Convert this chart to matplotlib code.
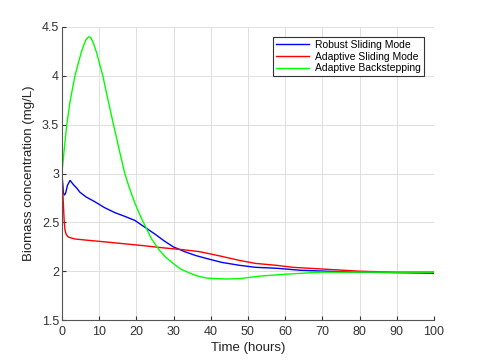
import matplotlib.pyplot as plt

# values (time in hours, biomass in mg/L)
t_robust = [0, 0.2, 0.4, 0.7, 1.0, 1.5, 2.2, 3.0, 4.0, 4.8, 6.5, 8.9, 11.5, 14.2, 17.0, 19.6,
            22.3, 25.0, 27.5, 29.9, 33.0, 36.0, 38.9, 43.0, 47.8, 52.0, 57.7, 64.0, 71.0, 80.0, 90.0, 100.0]
x_robust = [3.0, 2.9, 2.8, 2.78, 2.8, 2.88, 2.93, 2.89, 2.85, 2.81, 2.76, 2.71, 2.65, 2.60, 2.56, 2.52,
            2.45, 2.38, 2.31, 2.25, 2.20, 2.16, 2.13, 2.09, 2.06, 2.04, 2.03, 2.01, 2.00, 1.99, 1.985, 1.98]

t_adaptive = [0, 0.2, 0.4, 0.6, 0.8, 1.1, 1.7, 2.5, 3.5, 6.0, 11.6, 17.0, 22.3, 27.0, 32.6, 37.0,
              42.0, 47.8, 52.0, 57.7, 62.0, 71.0, 80.0, 90.0, 100.0]
x_adaptive = [3.0, 2.85, 2.68, 2.52, 2.43, 2.38, 2.35, 2.34, 2.33, 2.32, 2.30, 2.28, 2.26, 2.24, 2.22, 2.20,
              2.16, 2.11, 2.08, 2.06, 2.04, 2.02, 2.00, 1.99, 1.99]

t_backstep = [0, 0.5, 1.3, 2.2, 3.5, 4.4, 5.2, 6.0, 6.6, 7.2, 7.8, 8.5, 9.3, 10.0, 11.0, 12.0,
              13.0, 13.8, 14.6, 15.3, 16.1, 16.9, 17.9, 18.9, 19.8, 20.7, 21.5, 22.3, 23.2, 24.1,
              25.2, 26.3, 28.0, 29.9, 32.0, 34.4, 36.5, 38.9, 41.0, 44.3, 48.0, 53.2, 57.0, 60.4,
              65.0, 69.4, 80.0, 90.0, 100.0]
x_backstep = [3.0, 3.2, 3.5, 3.74, 4.0, 4.13, 4.24, 4.33, 4.38, 4.40, 4.39, 4.33, 4.24, 4.14, 4.0, 3.82,
              3.65, 3.51, 3.38, 3.26, 3.13, 3.0, 2.88, 2.77, 2.68, 2.60, 2.53, 2.47, 2.40, 2.33,
              2.27, 2.21, 2.14, 2.08, 2.02, 1.98, 1.95, 1.93, 1.925, 1.92, 1.925, 1.95, 1.96, 1.97,
              1.98, 1.99, 1.99, 1.99, 1.99]

xticks = list(range(0, 101, 10))
yticks = [1.5, 2, 2.5, 3, 3.5, 4, 4.5]

plt.rcParams['font.family'] = ['Liberation Sans', 'DejaVu Sans']
fig = plt.figure(figsize=(4.8, 3.6), dpi=100)
ax = fig.add_axes([0.129, 0.111, 0.775, 0.814])

ax.plot(t_robust, x_robust, color='#0000ff', lw=1.0, label='Robust Sliding Mode')
ax.plot(t_adaptive, x_adaptive, color='#ff0000', lw=1.0, label='Adaptive Sliding Mode')
ax.plot(t_backstep, x_backstep, color='#00ff00', lw=1.0, label='Adaptive Backstepping')

ax.set_xlim(0, 100)
ax.set_ylim(1.5, 4.5)
ax.set_xticks(xticks)
ax.set_yticks(yticks)
ax.set_yticklabels(['1.5', '2', '2.5', '3', '3.5', '4', '4.5'])
ax.grid(True, color='#e0e0e0', lw=0.7)
ax.set_axisbelow(True)
for s in ['top', 'right']:
    ax.spines[s].set_visible(False)
for s in ['left', 'bottom']:
    ax.spines[s].set_color('#555555')
ax.tick_params(direction='in', length=3, labelsize=9, colors='#333333', pad=2)
ax.tick_params(axis='x', pad=4)
ax.set_xlabel('Time (hours)', fontsize=9.5, color='#222222', labelpad=3)
ax.set_ylabel('Biomass concentration (mg/L)', fontsize=9.5, color='#222222', labelpad=5)

leg = ax.legend(loc='upper right', bbox_to_anchor=(0.972, 0.966), borderaxespad=0, fontsize=7.5,
                fancybox=False, framealpha=1, edgecolor='#333333', handlelength=3.2,
                handletextpad=0.5, borderpad=0.3, labelspacing=0.15)
leg.get_frame().set_linewidth(0.8)

fig.savefig('out.png', dpi=100)
